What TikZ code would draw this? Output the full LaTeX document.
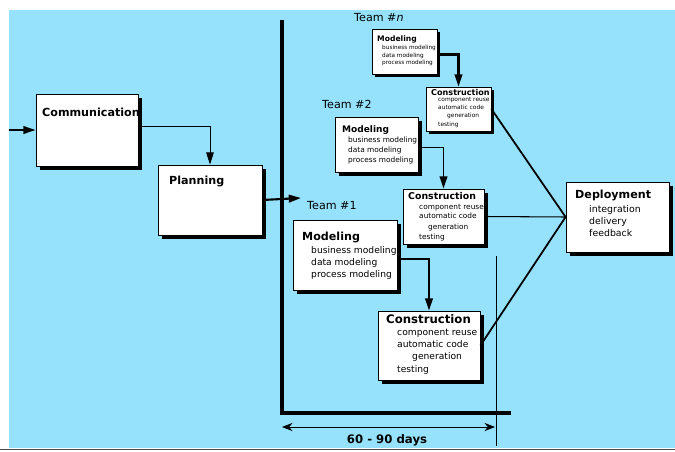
\documentclass[tikz,border=0pt]{standalone}
\usepackage{fontspec}
\setmainfont{DejaVu Sans}
\usetikzlibrary{arrows.meta,shadows,fit,calc}
\definecolor{skyblue}{RGB}{150,226,252}
\tikzset{
  box/.style={draw, fill=white, line width=0.7pt, inner sep=0pt,
    drop shadow={shadow xshift=#1, shadow yshift=-#1, opacity=1, fill=black}},
  box/.default=3.6pt,
  txt/.style={anchor=base west, inner sep=0pt},
  head/.style={txt, font=\bfseries\fontsize{#1}{#1}\selectfont},
  item/.style={txt, font=\fontsize{#1}{#1}\selectfont},
}
\begin{document}
\begin{tikzpicture}[x=0.03cm, y=-0.03cm, >={Triangle[length=10.5pt,width=6.5pt]}]
  \useasboundingbox (0,0) rectangle (675,452);
  \fill[white] (0,0) rectangle (675,452);
  \fill[skyblue] (9,10) rectangle (675,448); % background
  \draw[line width=1.6pt, gray!60!black] (0,449.5) -- (675,449.5); % bottom rule

  % time line
  \draw[line width=3.4pt] (282,20) -- (282,413) -- (511,413);
  \draw[line width=0.6pt] (496,256) -- (496,446);

  % boxes
  \node[box, fit={(36,94) (138,166)}] (comm) {}; % communication
  \node[box, fit={(158,165) (262,235)}] (plan) {}; % planning
  \node[box, fit={(293,220) (397,290)}] (modA) {}; % team 1
  \node[box, fit={(378,311) (480,380)}] (consA) {};
  \node[box=3pt, fit={(335,117) (418,172)}] (modB) {}; % team 2
  \node[box=3pt, fit={(403,189) (484,244)}] (consB) {};
  \node[box=2.5pt, fit={(372,29) (437,74)}] (modN) {}; % team n
  \node[box=2.5pt, fit={(426,87) (491,131)}] (consN) {};
  \node[box, fit={(566,182) (669,252)}] (deploy) {}; % deployment

  % labels
  \node[head=9.5] (commT) at (42,117) {Communication};
  \node[head=9.5] (planT) at (169,184) {Planning};
  \node[item=9.5] (teamA) at (307,209) {Team \#1};
  \node[item=9.5] (teamB) at (322,109) {Team \#2};
  \node[item=9.5] (teamN) at (354,22) {Team \#\textit{n}};

  % team 1
  \node[head=9.5] (modAT) at (302,240) {Modeling};
  \node[item=7.8] (modA1) at (311,253) {business modeling};
  \node[item=7.8] (modA2) at (311,265) {data modeling};
  \node[item=7.8] (modA3) at (311,277) {process modeling};
  \node[head=10]  (consAT) at (386,323) {Construction};
  \node[item=7.8] (consA1) at (397,335) {component reuse};
  \node[item=7.8] (consA2) at (397,347) {automatic code};
  \node[item=7.8] (consA3) at (412,359) {generation};
  \node[item=7.8] (consA4) at (397,372) {testing};

  % team 2
  \node[head=7.7] (modBT) at (342,132) {Modeling};
  \node[item=6.3] (modB1) at (348,142.5) {business modeling};
  \node[item=6.3] (modB2) at (348,153) {data modeling};
  \node[item=6.3] (modB3) at (348,162.5) {process modeling};
  \node[head=8]   (consBT) at (408,199) {Construction};
  \node[item=6.3] (consB1) at (419,209) {component reuse};
  \node[item=6.3] (consB2) at (419,218) {automatic code};
  \node[item=6.3] (consB3) at (428,229) {generation};
  \node[item=6.3] (consB4) at (419,239) {testing};

  % team n
  \node[head=6.5] (modNT) at (377,42) {Modeling};
  \node[item=4.9] (modN1) at (382,50) {business modeling};
  \node[item=4.9] (modN2) at (382,58) {data modeling};
  \node[item=4.9] (modN3) at (382,65) {process modeling};
  \node[head=6.9] (consNT) at (431,96) {Construction};
  \node[item=5]   (consN1) at (438,102) {component reuse};
  \node[item=5]   (consN2) at (438,110) {automatic code};
  \node[item=5]   (consN3) at (447,118) {generation};
  \node[item=5]   (consN4) at (438,127) {testing};

  % deployment
  \node[head=9.5] (deployT) at (575,198) {Deployment};
  \node[item=8]   (deploy1) at (589,212) {integration};
  \node[item=8]   (deploy2) at (589,224) {delivery};
  \node[item=8]   (deploy3) at (589,236) {feedback};

  % connectors
  \coordinate (entry) at (9,130);
  \coordinate (teams) at (301,198);
  \draw[->, line width=1.6pt] (entry) -- (comm.west);
  \draw[->, line width=0.8pt] ($(comm.east)+(0,-4)$) -| (plan.north);
  \draw[->, line width=1.8pt] (plan.east) -- (teams);
  \draw[->, line width=1.8pt] ($(modA.east)+(0,4)$) -| (consA.north);
  \draw[->, line width=1.6pt] ($(modB.east)+(0,3)$) -| (consB.north);
  \draw[->, line width=1.8pt] ($(modN.east)+(0,3)$) -| (consN.north);
  \draw[line width=1.5pt] (consN.east) -- (deploy.west);
  \draw[line width=0.9pt] (consB.east) -- (deploy.west);
  \draw[line width=1.5pt] (consA.east) -- (deploy.west);

  % 60 - 90 days
  \coordinate (spanL) at (282,427);
  \coordinate (spanR) at (495,427);
  \draw[{Stealth[length=9pt,width=7pt]}-{Stealth[length=9pt,width=7pt]}, line width=0.7pt] (spanL) -- (spanR);
  \node[anchor=base, inner sep=0pt, font=\bfseries\fontsize{10}{10}\selectfont] (span) at (387,443) {60 - 90 days};
\end{tikzpicture}
\end{document}
